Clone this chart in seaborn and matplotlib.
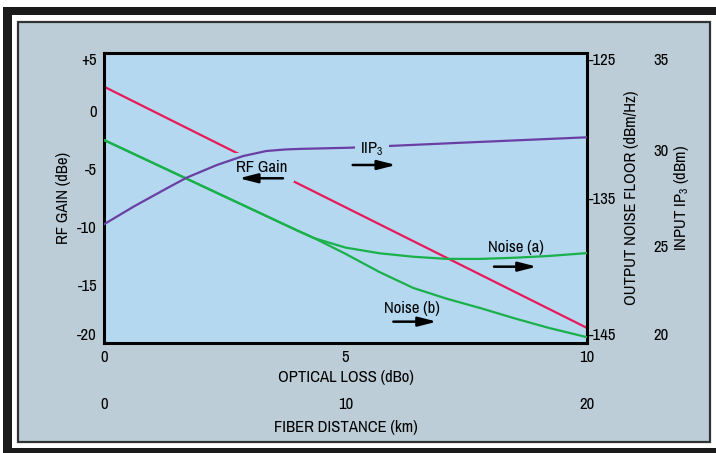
import matplotlib
matplotlib.use("Agg")
import matplotlib.pyplot as plt
from matplotlib.patches import Rectangle
import seaborn as sns

# --- values ---
gain_loss = [0, 10]
rf_gain = [2.1, -18.7]

noise_loss = [0, 1, 2, 3, 4, 4.36, 5, 5.7, 6.4, 7.1, 7.8, 8.5, 9.2, 10]
noise_a = [-131.0, -132.56, -134.12, -135.68, -137.24, -137.78, -138.42, -138.81,
           -139.05, -139.2, -139.2, -139.12, -139.0, -138.8]
noise_b = [-131.0, -132.56, -134.12, -135.68, -137.24, -137.78, -138.85, -140.1,
           -141.2, -141.95, -142.6, -143.3, -143.95, -144.6]

ip3_loss = [0, 0.61, 1.3, 1.71, 2.33, 2.88, 3.36, 3.75, 4.05, 5.08, 7.5, 10]
iip3 = [26.14, 27.05, 28.0, 28.55, 29.2, 29.67, 29.93, 30.01, 30.04, 30.1, 30.37, 30.64]

loss_ticks = [0, 5, 10]
km_ticks = [0, 10, 20]
km_per_dbo = 2
gain_ticks = [5, 0, -5, -10, -15, -20]
gain_labels = ["+5", "0", "-5", "-10", "-15", "-20"]
noise_ticks = [-125, -135, -145]
ip3_ticks = [35, 30, 25, 20]

# --- colours ---
panel_col = "#bccdd7"
plot_col = "#b3d8f0"
red = "#e8195a"
green = "#1ab04a"
purple = "#6a3fa3"

sns.set_style("white")
plt.rcParams["font.family"] = ["Archivo Narrow", "DejaVu Sans"]
plt.rcParams["font.weight"] = "medium"
plt.rcParams["mathtext.default"] = "regular"
plt.rcParams["text.color"] = "black"
plt.rcParams["axes.labelcolor"] = "black"
plt.rcParams["axes.labelweight"] = "medium"
plt.rcParams["xtick.color"] = "black"
plt.rcParams["ytick.color"] = "black"
FS = 12

W, H = 716, 453
fig = plt.figure(figsize=(W / 100, H / 100), dpi=100)
fig.patch.set_facecolor("white")


def frame_rect(x0, y0, x1, y1, **kw):
    fig.add_artist(Rectangle((x0 / W, 1 - y1 / H), (x1 - x0) / W, (y1 - y0) / H,
                             transform=fig.transFigure, **kw))


frame_rect(3.3, 6.7, 730, 460, facecolor="#1a1a1a", edgecolor="none", zorder=-3)
frame_rect(11.7, 15, 730, 448, facecolor="white", edgecolor="none", zorder=-2)
frame_rect(17.5, 21.5, 710, 441.5, facecolor=panel_col, edgecolor="#333333",
           linewidth=1.6, zorder=-1)

ax = fig.add_axes([104 / W, 1 - 343 / H, 483 / W, 290 / H])
ax.set_facecolor(plot_col)
ax2 = ax.twinx()
ax3 = ax.twinx()

sns.lineplot(x=gain_loss, y=rf_gain, ax=ax, color=red, linewidth=1.6, zorder=2)
sns.lineplot(x=noise_loss, y=noise_a, ax=ax2, color=green, linewidth=1.6)
sns.lineplot(x=noise_loss, y=noise_b, ax=ax2, color=green, linewidth=1.6)
sns.lineplot(x=ip3_loss, y=iip3, ax=ax3, color=purple, linewidth=1.6)

ax.set_xlim(0, 10)
ax.set_ylim(-20, 5)
ax2.set_ylim(-145, -125)
ax3.set_ylim(20, 35)

for s in ax.spines.values():
    s.set_visible(True)
    s.set_color("black")
    s.set_linewidth(2.2)
for a in (ax2, ax3):
    for s in a.spines.values():
        s.set_visible(False)

ax.set_xticks(loss_ticks)
ax.set_xticklabels([str(t) for t in loss_ticks])
ax.set_yticks(gain_ticks)
ax.set_yticklabels(gain_labels)
ax.tick_params(length=0, labelsize=FS, pad=5)

ax2.set_yticks(noise_ticks)
ax2.set_yticklabels([str(t) for t in noise_ticks])
ax2.tick_params(axis="y", length=0, labelsize=FS, pad=1)

ax3.spines["right"].set_position(("outward", 48))
ax3.set_yticks(ip3_ticks)
ax3.set_yticklabels([str(t) for t in ip3_ticks])
ax3.tick_params(axis="y", length=0, labelsize=FS, pad=0)

# end labels sit a little inside the axis ends, as in the original
for a in (ax, ax2, ax3):
    labs = a.get_yticklabels()
    labs[0].set_va("top")
    labs[-1].set_va("bottom")

# fiber distance: second scale under the optical-loss axis
sec = ax.secondary_xaxis(-0.162, functions=(lambda x: x * km_per_dbo,
                                            lambda x: x / km_per_dbo))
sec.set_xticks(km_ticks)
sec.set_xticklabels([str(t) for t in km_ticks])
sec.tick_params(length=0, labelsize=FS, pad=5)
sec.spines["bottom"].set_visible(False)

ax.set_xlabel("OPTICAL LOSS (dBo)", fontsize=FS)
ax.xaxis.set_label_coords(0.5, -0.093)
sec.set_xlabel("FIBER DISTANCE (km)", fontsize=FS, labelpad=6)
ax.set_ylabel("RF GAIN (dBe)", fontsize=FS)
ax.yaxis.set_label_coords(-0.068, 0.5)
ax2.set_ylabel("OUTPUT NOISE FLOOR (dBm/Hz)", fontsize=FS)
ax2.yaxis.set_label_coords(1.077, 0.5)
ax3.set_ylabel("INPUT IP$_3$ (dBm)", fontsize=FS)
ax3.yaxis.set_label_coords(1.175, 0.5)

# in-plot labels, the box hides the curve underneath
ax.text(3.265, -4.91, "RF Gain", fontsize=FS, ha="center", va="center", zorder=4,
        bbox=dict(facecolor=plot_col, edgecolor="none", pad=5))
ax3.text(5.55, -3.28, "IIP$_3$", fontsize=FS, ha="center", va="center", zorder=4,
         transform=ax.transData,
         bbox=dict(facecolor=plot_col, edgecolor="none", pad=4))
ax.text(8.52, -11.81, "Noise (a)", fontsize=FS, ha="center", va="center", zorder=4)
ax.text(6.37, -17.04, "Noise (b)", fontsize=FS, ha="center", va="center", zorder=4)

arrow = dict(arrowstyle="-|>,head_length=1.1,head_width=0.28", color="black",
             lw=1.8, shrinkA=0, shrinkB=0)
ax.annotate("", xy=(2.795, -5.80), xytext=(3.706, -5.80), arrowprops=arrow, zorder=5)
ax3.annotate("", xy=(6.046, -4.655), xytext=(5.149, -4.655), xycoords=ax.transData,
             textcoords=ax.transData, arrowprops=arrow, zorder=5)
ax.annotate("", xy=(8.96, -13.42), xytext=(8.075, -13.42), arrowprops=arrow, zorder=5)
ax.annotate("", xy=(6.89, -18.16), xytext=(5.99, -18.16), arrowprops=arrow, zorder=5)

fig.savefig("out.png", dpi=100)
